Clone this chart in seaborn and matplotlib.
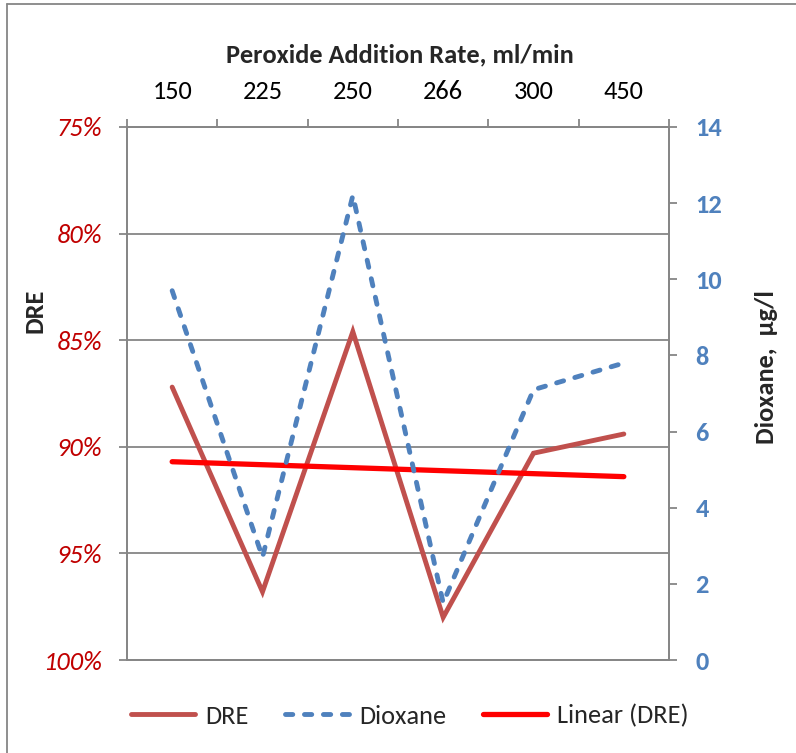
import matplotlib
matplotlib.use("Agg")
import matplotlib.pyplot as plt
import seaborn as sns
import numpy as np
import pandas as pd
from matplotlib.lines import Line2D
from matplotlib.font_manager import FontProperties

# ---- data ----
rates = ["150", "225", "250", "266", "300", "450"]
dre = [87.2, 96.8, 84.6, 98.0, 90.3, 89.4]          # %
dioxane = [9.7, 2.7, 12.2, 1.5, 7.1, 7.8]           # µg/l
dre_ticks = [75, 80, 85, 90, 95, 100]
diox_ticks = [0, 2, 4, 6, 8, 10, 12, 14]

sns.set_style("white")
plt.rcParams['font.family'] = ['Carlito', 'DejaVu Sans']

DRE_C = '#C0504D'
DIOX_C = '#4F81BD'
LIN_C = '#FF0000'
GRID_C = '#868686'
FS = 19
LW = 3.5
DASH = [1.5, 2.4]

W, H = 796, 753
fig = plt.figure(figsize=(W / 100, H / 100), dpi=100)
ax = fig.add_axes([127 / W, 1 - 660 / H, 542 / W, 533 / H])

idx = np.arange(len(rates))
df = pd.DataFrame({'idx': idx, 'rate': rates, 'DRE': dre, 'Dioxane': dioxane})
coef = np.polyfit(idx, df['DRE'], 1)
df['trend'] = np.polyval(coef, idx)

sns.lineplot(data=df, x='idx', y='DRE', ax=ax, color=DRE_C)
sns.lineplot(data=df, x='idx', y='trend', ax=ax, color=LIN_C)
ax.lines[0].set_linewidth(LW)
ax.lines[1].set_linewidth(LW + 0.3)
for ln in ax.lines:
    ln.set_solid_capstyle('round')
    ln.set_solid_joinstyle('miter')

ax.set_xlim(-0.5, len(rates) - 0.5)
ax.set_ylim(100, 75)
ax.set_yticks(dre_ticks)
ax.set_yticklabels([f"{t}%" for t in dre_ticks], fontstyle='italic')
ax.yaxis.grid(True, color=GRID_C, lw=1.3)
ax.xaxis.grid(False)
ax.set_xlabel('')
ax.set_ylabel('')

ax.xaxis.tick_top()
ax.set_xticks(idx)
ax.set_xticklabels(rates)
ax.set_xticks(np.arange(-0.5, len(rates), 1.0), minor=True)
ax.tick_params(axis='x', which='major', length=0, pad=17, labelsize=FS,
               labelcolor='black', top=True, bottom=False)
ax.tick_params(axis='x', which='minor', length=6, width=1.3, color=GRID_C,
               direction='out', top=True, bottom=False)
ax.tick_params(axis='y', which='major', length=6, width=1.3, color=GRID_C,
               direction='out', left=True, pad=12, labelsize=FS,
               labelcolor='#C00000')

for s in ax.spines.values():
    s.set_color(GRID_C)
    s.set_linewidth(1.3)

ax2 = ax.twinx()
sns.lineplot(data=df, x='idx', y='Dioxane', ax=ax2, color=DIOX_C)
dl = ax2.lines[0]
dl.set_linewidth(LW)
dl.set_dashes(DASH)
dl.set_dash_capstyle('round')
ax2.set_ylim(0, 14)
ax2.set_yticks(diox_ticks)
ax2.set_yticklabels([str(t) for t in diox_ticks])
ax2.set_ylabel('')
ax2.grid(False)
ax2.tick_params(axis='y', length=6, width=1.3, color=GRID_C, direction='out',
                right=True, left=False, pad=13, labelsize=FS, labelcolor=DIOX_C)
for s in ax2.spines.values():
    s.set_color(GRID_C)
    s.set_linewidth(1.3)

# titles
fig.text(400 / W, 1 - 55 / H, 'Peroxide Addition Rate, ml/min', ha='center',
         va='center', fontsize=FS, fontweight='bold')
fig.text(35 / W, 1 - 311 / H, 'DRE', rotation=90, ha='center', va='center',
         fontsize=FS, fontweight='bold')
fig.text(767 / W, 1 - 367 / H, 'Dioxane,  µg/l', rotation=90, ha='center',
         va='center', fontsize=FS, fontweight='bold')

# legend
h1 = Line2D([], [], color=DRE_C, lw=LW, solid_capstyle='round')
h2 = Line2D([], [], color=DIOX_C, lw=LW, dashes=DASH, dash_capstyle='round')
h3 = Line2D([], [], color=LIN_C, lw=LW + 0.3, solid_capstyle='round')
fig.legend([h1, h2, h3], ['DRE', 'Dioxane', 'Linear (DRE)'], loc='center',
           bbox_to_anchor=(410 / W, 1 - 716 / H), ncol=3, frameon=False,
           fontsize=FS, handlelength=2.4, handletextpad=0.4, columnspacing=1.4)

# outer chart border (partially visible)
fig.add_artist(Line2D([7 / W, 7 / W], [0, 1 - 4 / H], transform=fig.transFigure,
                      color=GRID_C, lw=1.3))
fig.add_artist(Line2D([7 / W, 1], [1 - 4 / H, 1 - 4 / H], transform=fig.transFigure,
                      color=GRID_C, lw=1.3))

# force bold right-axis tick labels after ticks exist
fig.canvas.draw()
bold_fp = FontProperties(family='Carlito', weight=700, size=FS)
for tick in ax2.yaxis.get_major_ticks():
    tick.label1.set_fontproperties(bold_fp)
    tick.label2.set_fontproperties(bold_fp)
    tick.label2.set_color(DIOX_C)

fig.savefig('out.png', dpi=100)
